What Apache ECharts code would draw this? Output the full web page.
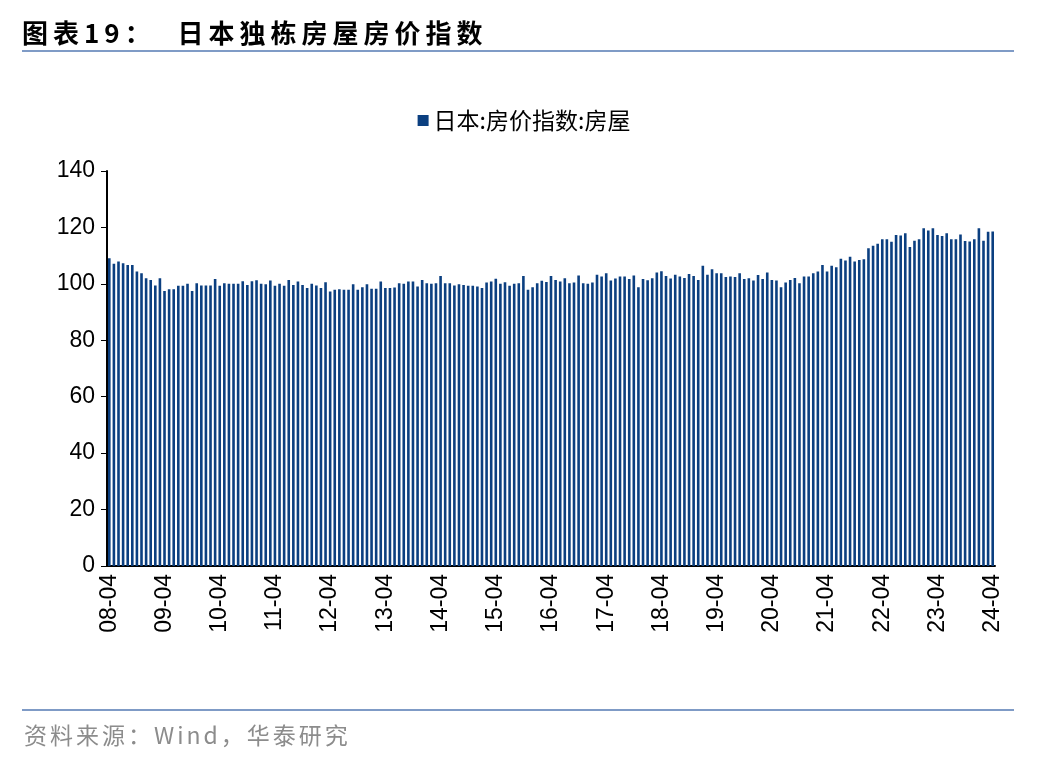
<!DOCTYPE html>
<html><head><meta charset="utf-8">
<script src="https://cdn.jsdelivr.net/npm/echarts@6/dist/echarts.min.js"></script>
<style>
body{margin:0;background:#fff;font-family:"Noto Sans CJK SC",sans-serif;}
#title{position:absolute;left:22px;top:13px;font-size:26px;font-weight:bold;color:#000;letter-spacing:5px}
#top{position:absolute;left:22px;top:50px;width:992px;border-top:2px solid #7f9bc6}
#bot{position:absolute;left:22px;top:709px;width:992px;border-top:2px solid #7f9bc6}
#src{position:absolute;left:24px;top:717px;font-size:23px;color:#8c8c8c;letter-spacing:3px}
#c{position:absolute;left:0;top:0;width:1048px;height:760px}
</style></head><body>
<div id="c"></div>
<div id="title">图表19：&nbsp;&nbsp;日本独栋房屋房价指数</div>
<div id="top"></div><div id="bot"></div>
<div id="src">资料来源：Wind，华泰研究</div>
<script>
// 2008-04 起的月度数据
const values2008to2013 = [109.1,107.1,107.9,107.3,106.7,106.7,104.4,103.8,102,101.4,99.4,102,97.5,98.1,98.1,99.3,99.3,100,97.5,100.2,99.4,99.4,99.4,101.7,99.3,100.2,100,100,100,100.9,99.6,100.9,101.3,100,99.9,101.2,99.3,100,99.3,101.4,99.6,100.8,99.6,98.5,100,99.4,98.5,100.6,97.3,97.9,98.1,97.9,97.9,99.9,97.9,98.8,99.9,98.3,98.3,100.8,98.5,98.5];
const values2013to2018 = [98.7,100.2,100,100.8,100.8,99.1,101.4,100.2,100,100.2,102.8,100.2,100.2,99.4,99.9,99.6,99.3,99.3,99.1,98.5,100.5,100.8,101.8,100,100.6,99.3,100,100.2,102.8,97.9,98.8,100.2,101.1,100.7,102.8,101.4,100.8,102,100.2,100.5,103,100.2,100,100.5,103.2,102.6,103.8,101.2,101.9,102.6,102.6,101.7,103,98.8,101.7,101.3,102,104,104.5,102.8,101.9,103.2,102.6,102.1,103.5];
const values2018to2024 = [102.8,101.4,106.4,103.2,105.2,103.8,103.8,102.4,102.6,102.4,103.8,101.7,102,101.2,103.1,101.7,104,101.4,101.2,98.8,100.5,101.4,102.1,100.2,102.6,102.6,103.8,104.4,106.7,104.4,106.4,105.9,108.9,108.3,109.6,107.9,108.5,108.7,112.6,113.5,114.2,115.8,115.8,114.9,117.3,117.1,117.9,113.1,115.3,115.8,119.7,118.9,119.7,117.3,117,117.9,115.8,115.8,117.5,115.2,115,115.8,119.7,115.3,118.5,118.6];
const values = values2008to2013.concat(values2013to2018, values2018to2024);
const months = values.map((v, i) => {
  const m = 3 + i, y = 8 + Math.floor(m / 12), mm = m % 12 + 1;
  return String(y).padStart(2, '0') + '-' + String(mm).padStart(2, '0');
});
const chart = echarts.init(document.getElementById('c'));
const axisFont = {fontFamily: 'Liberation Sans, Arial', fontSize: 23, color: '#000'};
chart.setOption({
  animation: false,
  legend: {top: 104, left: 'center', icon: 'rect', itemWidth: 11, itemHeight: 11, itemGap: 6,
    textStyle: {fontSize: 23, color: '#000', fontFamily: 'Noto Sans CJK SC'},
    data: ['日本:房价指数:房屋']},
  grid: {left: 107, right: 53, top: 171, bottom: 194},
  xAxis: {type: 'category', data: months, boundaryGap: true,
    axisLine: {lineStyle: {color: '#000', width: 2}},
    axisTick: {interval: 11, length: 6, lineStyle: {color: '#000'}},
    axisLabel: Object.assign({interval: 11, rotate: 90, margin: 8}, axisFont)},
  yAxis: {type: 'value', min: 0, max: 140, interval: 20,
    splitLine: {show: false},
    axisLine: {show: true, lineStyle: {color: '#000', width: 2}},
    axisTick: {show: true, length: 6, lineStyle: {color: '#000'}},
    axisLabel: Object.assign({margin: 12}, axisFont)},
  series: [{name: '日本:房价指数:房屋', type: 'bar', data: values, barWidth: 2.6,
    itemStyle: {color: '#0b3f80'}}]
});
</script></body></html>
